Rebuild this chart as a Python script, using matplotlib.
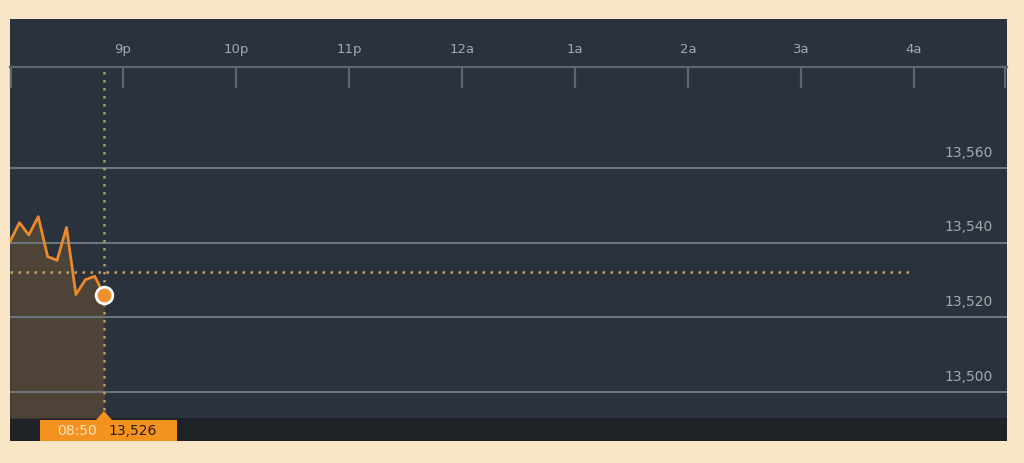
import matplotlib
matplotlib.use("Agg")
import matplotlib.pyplot as plt
from matplotlib.patches import Rectangle, Polygon

# ---- data ----
minutes = [0, 5, 10, 15, 20, 25, 30, 35, 40, 45, 50]          # minutes after 8pm
values = [13540.3, 13545.4, 13542.1, 13547.0, 13536.3, 13535.3,
          13544.1, 13526.1, 13530.1, 13531.0, 13526.0]
ref_level = 13532.2
xtick_labels = ["9p", "10p", "11p", "12a", "1a", "2a", "3a", "4a"]
xtick_hours = [1, 2, 3, 4, 5, 6, 7, 8]                           # hours after 8pm
ytick_values = [13500, 13520, 13540, 13560]
tip_time = "08:50"
tip_value = "13,526"

hours = [m / 60 for m in minutes]

W, H = 1024, 463
fig = plt.figure(figsize=(W / 100, H / 100), dpi=100)
fig.patch.set_facecolor("#f8e6c6")

panel = "#29323d"
gray = "#5f666e"
orange = "#f0902a"

def fx(px): return px / W
def fy(py): return 1 - py / H

# dark panel background (top label strip) and bottom bar
fig.patches.append(Rectangle((fx(10), fy(441)), fx(1007) - fx(10), fy(19) - fy(441),
                             transform=fig.transFigure, facecolor=panel, edgecolor="none", zorder=0))
fig.patches.append(Rectangle((fx(10), fy(441)), fx(1007) - fx(10), fy(418) - fy(441),
                             transform=fig.transFigure, facecolor="#1f2227", edgecolor="none", zorder=0))

ax = fig.add_axes([fx(10), fy(418), fx(1007) - fx(10), fy(67) - fy(418)])
ax.set_zorder(1)
ax.set_facecolor(panel)
px_per_hour = 113.0
ax.set_xlim(0, (1007 - 10) / px_per_hour)
px_per_unit = 74.5 / 20
y_top = 13560 + (168 - 67) / px_per_unit
y_bot = 13500 - (418 - 392) / px_per_unit
ax.set_ylim(y_bot, y_top)

for s in ["left", "right", "bottom"]:
    ax.spines[s].set_visible(False)
ax.spines["top"].set_color(gray)
ax.spines["top"].set_linewidth(1.6)

ax.xaxis.tick_top()
ax.set_xticks([0.01] + xtick_hours + [(1005 - 10) / px_per_hour])
ax.set_xticklabels([""] + xtick_labels + [""])
ax.tick_params(axis="x", direction="in", length=15, width=1.6, color=gray,
               labelcolor="#a4a9ae", labelsize=9.5, pad=8)

ax.set_yticks(ytick_values)
ax.tick_params(axis="y", length=0, labelleft=False)
ax.grid(axis="y", color="#6e747b", linewidth=1.5, zorder=1)
ax.set_axisbelow(True)
ytrans = ax.get_yaxis_transform()
for v in ytick_values:
    ax.annotate(f"{v:,}", xy=(1, v), xycoords=ytrans, xytext=(-10, 6), textcoords="offset points",
                ha="right", va="bottom", color="#a4a9ae", fontsize=10)

# area + line
ax.fill_between(hours, values, y_bot, color="#4e4337", zorder=0.2, linewidth=0)
ax.plot(hours, values, color="#e98a2c", linewidth=2, zorder=3)

# reference dotted line and crosshair
ax.plot([0, 8 - 0.02], [ref_level, ref_level], color="#c9a15e", linestyle=(0, (1, 2.2)),
        linewidth=1.8, zorder=3)
ax.axvline(hours[-1], color="#b59a5e", linestyle=(0, (1, 2.2)), linewidth=1.8, zorder=3)

ax.plot(hours[-1], values[-1], marker="o", markersize=12, markerfacecolor=orange,
        markeredgecolor="white", markeredgewidth=2, zorder=5, clip_on=False)

# tooltip box
fig.patches.append(Rectangle((fx(40), fy(441)), fx(177) - fx(40), fy(420) - fy(441),
                             transform=fig.transFigure, facecolor="#f4921f", edgecolor="none", zorder=3))
fig.patches.append(Polygon([(fx(96), fy(420)), (fx(104), fy(411)), (fx(112), fy(420))],
                           closed=True, transform=fig.transFigure, facecolor="#f4921f",
                           edgecolor="none", zorder=3))
fig.text(fx(57), fy(431), tip_time, color="#fde3c0", fontsize=10, va="center", ha="left", zorder=4)
fig.text(fx(108), fy(431), tip_value, color="#2b1d10", fontsize=10, va="center", ha="left", zorder=4)

fig.savefig("out.png", dpi=100, facecolor=fig.get_facecolor())
